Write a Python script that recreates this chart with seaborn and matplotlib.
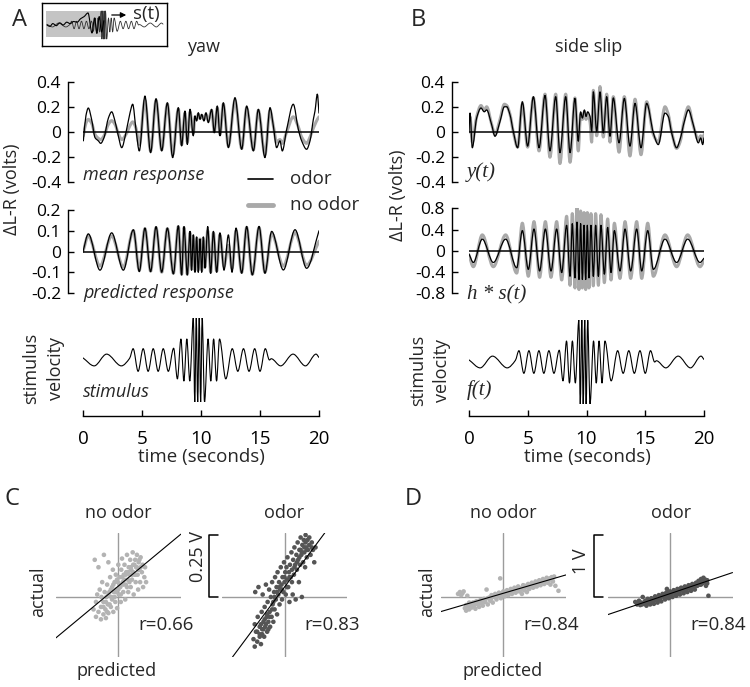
import matplotlib
matplotlib.use("Agg")
import matplotlib.pyplot as plt
from matplotlib.lines import Line2D
from matplotlib.patches import Rectangle, PathPatch, FancyArrowPatch
from matplotlib.path import Path
import seaborn as sns

W, H = 750, 687

# stimulus velocity (relative units), extrema
stim_t = [0.0, 0.95, 2.0, 3.25, 3.95, 4.25, 4.67, 5.1, 5.52, 5.95, 6.37, 6.8, 7.23, 7.68, 8.0, 8.3,
          8.55, 8.8, 9.05, 9.35, 9.47, 9.6, 9.72, 9.85, 9.97, 10.1, 10.3, 10.6, 10.83, 11.07, 11.32,
          11.57, 12.1, 12.65, 13.12, 13.6, 14.07, 14.55, 15.0, 15.45, 15.8, 15.95, 16.75, 17.8, 18.85,
          19.75, 20.0]
stim_v = [0.05, -0.14, 0.14, -0.14, 0.04, 0.27, -0.27, 0.27, -0.27, 0.27, -0.27, 0.27, -0.27, 0.28,
          -0.45, 0.5, -0.5, 0.5, -0.5, 1.0, -1.0, 1.0, -1.0, 1.0, -1.0, 1.0, -1.0, 0.5, -0.5, 0.5, -0.5,
          0.5, -0.45, 0.27, -0.27, 0.27, -0.27, 0.27, -0.27, 0.27, 0.0, 0.03, -0.14, 0.14, -0.14, 0.14, 0.06]

# yaw: mean response (volts)
ma_t = [0.03, 0.25, 0.45, 0.73, 1.02, 1.3, 1.5, 1.78, 2.15, 2.43, 2.71, 2.99, 3.28, 3.64, 3.98, 4.21,
        4.49, 4.77, 5.25, 5.73, 6.19, 6.67, 7.15, 7.6, 8.08, 8.36, 8.64, 8.84, 9.07, 9.35, 9.49, 9.63,
        9.77, 9.92, 10.06, 10.25, 10.42, 10.62, 10.9, 11.13, 11.38, 11.61, 11.89, 12.32, 12.88, 13.45,
        13.87, 14.44, 14.86, 15.42, 15.85, 16.13, 16.41, 16.69, 16.89, 17.26, 17.82, 18.25, 18.53,
        18.95, 19.24, 19.52, 19.66, 19.86, 20.0]
ma_odor = [-0.07, 0.13, 0.19, 0.10, -0.045, -0.07, -0.09, -0.045, 0.11, 0.16, 0.087, -0.03, -0.124,
           -0.005, 0.15, 0.22, 0.02, -0.15, 0.285, -0.164, 0.264, -0.15, 0.232, -0.203, 0.193, -0.11,
           0.166, -0.098, 0.18, -0.03, 0.127, 0.087, 0.153, 0.1, 0.14, 0.087, 0.153, 0.074, 0.18,
           -0.005, 0.206, -0.03, 0.232, -0.124, 0.272, -0.137, 0.206, -0.15, 0.18, -0.203, 0.193,
           0.048, -0.124, -0.07, -0.15, 0.02, 0.22, 0.02, -0.07, -0.137, -0.07, 0.1, 0.166, 0.3, 0.15]
ma_none = [-0.03, 0.07, 0.10, 0.07, -0.02, -0.05, -0.06, -0.03, 0.06, 0.09, 0.06, -0.01, -0.06, -0.02,
           0.05, 0.08, 0.03, -0.1, 0.25, -0.15, 0.25, -0.14, 0.22, -0.18, 0.18, -0.1, 0.15, -0.08, 0.16,
           -0.01, 0.12, 0.1, 0.14, 0.11, 0.13, 0.1, 0.14, 0.09, 0.17, 0.0, 0.19, -0.02, 0.22, -0.11,
           0.25, -0.13, 0.19, -0.14, 0.17, -0.18, 0.17, 0.05, -0.08, -0.06, -0.09, 0.0, 0.12, 0.04,
           -0.04, -0.09, -0.04, 0.03, 0.06, 0.1, 0.12]

# yaw: predicted response (volts)
pa_t = [0.0, 0.45, 1.44, 2.43, 3.42, 4.27, 4.77, 5.25, 5.73, 6.19, 6.67, 7.15, 7.66, 8.08, 8.36, 8.56,
        8.84, 9.07, 9.2, 9.35, 9.49, 9.63, 9.77, 9.92, 10.06, 10.2, 10.34, 10.57, 10.82, 11.05, 11.33,
        11.6, 11.95, 12.32, 12.63, 12.97, 13.45, 13.87, 14.35, 14.92, 15.42, 15.99, 16.98, 17.97,
        18.95, 20.0]
pa_odor = [0.0, 0.085, -0.09, 0.09, -0.09, 0.105, -0.097, 0.113, -0.097, 0.12, -0.1, 0.113, -0.108,
           0.124, -0.113, 0.12, -0.113, 0.097, -0.09, 0.08, -0.1, 0.07, -0.1, 0.06, -0.1, 0.07, -0.08,
           0.12, -0.105, 0.097, -0.1, 0.09, -0.09, 0.08, -0.1, 0.113, -0.105, 0.121, -0.113, 0.121,
           -0.105, 0.097, -0.089, 0.105, -0.081, 0.1]
pa_none = [0.0, 0.075, -0.07, 0.075, -0.075, 0.1, -0.09, 0.11, -0.095, 0.115, -0.1, 0.11, -0.105, 0.12,
           -0.11, 0.115, -0.11, 0.09, -0.085, 0.075, -0.09, 0.065, -0.09, 0.06, -0.09, 0.065, -0.075,
           0.1, -0.1, 0.09, -0.095, 0.08, -0.07, 0.03, -0.08, 0.1, -0.1, 0.115, -0.11, 0.115, -0.1,
           0.085, -0.07, 0.09, -0.065, 0.05]

# side slip: mean response y(t) (volts)
mb_t = [0.0, 0.09, 0.28, 0.65, 1.02, 1.3, 1.5, 1.93, 2.21, 2.64, 3.01, 3.21, 3.49, 3.77, 4.14, 4.54,
        4.99, 5.48, 5.96, 6.47, 6.89, 7.38, 7.74, 8.23, 8.6, 9.02, 9.3, 9.5, 9.65, 9.82, 9.96, 10.1,
        10.3, 10.44, 10.58, 10.87, 11.15, 11.43, 11.72, 12.0, 12.28, 12.77, 13.22, 13.7, 14.13, 14.64,
        15.12, 15.69, 16.11, 16.68, 16.96, 17.25, 17.67, 17.96, 18.33, 18.67, 19.09, 19.52, 19.72,
        19.89, 20.0]
mb_odor = [0.005, 0.15, -0.125, 0.11, 0.19, 0.16, 0.175, 0.057, -0.034, 0.084, 0.2, 0.2, 0.136, 0.005,
           -0.125, 0.24, -0.112, 0.28, -0.125, 0.29, -0.15, 0.28, -0.164, 0.28, -0.164, 0.266, -0.073,
           0.16, 0.11, 0.175, 0.123, 0.16, 0.123, 0.005, 0.318, 0.005, 0.318, -0.008, 0.28, -0.034,
           0.27, -0.086, 0.266, -0.112, 0.227, -0.125, 0.227, -0.008, -0.1, 0.15, 0.123, -0.008,
           -0.125, -0.06, 0.084, 0.175, 0.057, -0.086, -0.047, -0.1, -0.047]
mb_none = [0.0, 0.12, -0.08, 0.12, 0.21, 0.17, 0.2, 0.06, -0.02, 0.1, 0.22, 0.21, 0.14, 0.0, -0.12,
           0.22, -0.12, 0.27, -0.15, 0.3, -0.2, 0.3, -0.25, 0.3, -0.24, 0.27, -0.15, 0.14, 0.1, 0.16,
           0.1, 0.14, 0.08, -0.08, 0.33, -0.03, 0.36, -0.04, 0.3, -0.08, 0.28, -0.16, 0.28, -0.19, 0.26,
           -0.18, 0.24, -0.02, -0.08, 0.2, 0.14, 0.0, -0.13, -0.08, 0.1, 0.2, 0.05, -0.06, -0.03, -0.08,
           -0.02]

# side slip: predicted response h * s(t) (volts)
pb_t = [0.0, 0.37, 1.13, 2.07, 3.12, 4.06, 4.54, 5.05, 5.53, 6.01, 6.5, 6.98, 7.46, 7.89, 8.31, 8.6,
        8.79, 9.02, 9.19, 9.36, 9.5, 9.65, 9.79, 9.93, 10.07, 10.21, 10.38, 10.58, 10.78, 11.01, 11.23,
        11.52, 11.8, 12.09, 12.37, 12.85, 13.28, 13.76, 14.27, 14.7, 15.21, 15.69, 16.68, 17.67, 18.61,
        19.66, 20.0]
pb_odor = [-0.06, -0.22, 0.22, -0.22, 0.22, -0.32, 0.38, -0.35, 0.41, -0.38, 0.41, -0.38, 0.41, -0.41,
           0.48, -0.48, 0.51, -0.51, 0.54, -0.54, 0.51, -0.54, 0.48, -0.54, 0.48, -0.51, 0.48, -0.48,
           0.48, -0.48, 0.48, -0.44, 0.44, -0.41, 0.38, -0.38, 0.41, -0.38, 0.41, -0.38, 0.38, -0.35,
           0.22, -0.22, 0.22, -0.22, -0.14]
pb_none = [-0.08, -0.3, 0.3, -0.3, 0.3, -0.42, 0.52, -0.48, 0.55, -0.5, 0.55, -0.5, 0.55, -0.55, 0.65,
           -0.65, 0.7, -0.7, 0.86, -0.73, 0.75, -0.7, 0.72, -0.73, 0.72, -0.7, 0.7, -0.66, 0.7, -0.65,
           0.68, -0.6, 0.6, -0.55, 0.52, -0.52, 0.55, -0.52, 0.55, -0.52, 0.52, -0.48, 0.3, -0.3, 0.3,
           -0.3, -0.19]

# schematic inset: response sketch drawn over the stimulus
inset_t = [0.0, 0.5, 1.0, 1.6, 2.2, 2.8, 3.4, 4.0, 4.6, 5.2, 5.8, 6.4, 7.07, 7.76, 8.2, 8.6, 9.0, 9.4, 9.8]
inset_v = [0.0, -0.1, 0.1, -0.05, 0.15, 0.0, 0.2, 0.1, 0.25, 0.2, 0.45, 0.6, 0.86, -0.57, 0.5, -0.6,
           0.6, -0.5, 0.3]

# C: yaw, predicted vs actual (volts)
c_none_x = [-0.100, -0.095, -0.090, -0.090, -0.085, -0.080, -0.080, -0.075, -0.070, -0.070, -0.068,
            -0.065, -0.060, -0.060, -0.058, -0.055, -0.052, -0.050, -0.048, -0.045, -0.042, -0.040,
            -0.040, -0.036, -0.033, -0.030, -0.028, -0.025, -0.022, -0.020, -0.018, -0.015, -0.012,
            -0.010, -0.008, -0.005, -0.002, 0.000, 0.002, 0.005, 0.008, 0.010, 0.012, 0.015, 0.018,
            0.020, 0.022, 0.025, 0.028, 0.030, 0.032, 0.035, 0.038, 0.040, 0.042, 0.045, 0.048, 0.050,
            0.052, 0.055, 0.058, 0.060, 0.062, 0.065, 0.068, 0.070, 0.072, 0.075, 0.078, 0.080, 0.082,
            0.085, 0.088, 0.090, 0.095, 0.098, 0.100, 0.105, 0.108, 0.112,
            -0.06, -0.05, -0.045, -0.04, -0.035, -0.03, -0.025, -0.02, -0.015, -0.01, -0.005, 0.0,
            0.005, 0.01, 0.015, 0.02, 0.025, 0.03, 0.035, 0.04, 0.045, 0.05, 0.055, 0.06, 0.065, 0.07,
            0.075, 0.08, 0.085, 0.09]
c_none_y = [-0.05, 0.15, -0.08, -0.02, 0.01, -0.06, 0.12, 0.03, -0.09, -0.04, 0.00, 0.06, -0.07, -0.02,
            0.17, 0.02, -0.05, -0.085, 0.00, 0.05, -0.03, 0.14, -0.065, 0.02, 0.08, -0.04, 0.00, 0.04,
            0.11, -0.06, 0.02, 0.06, -0.02, 0.09, 0.03, -0.045, 0.06, 0.13, 0.01, 0.08, 0.04, -0.02,
            0.11, 0.155, 0.06, 0.02, 0.09, 0.13, -0.01, 0.05, 0.10, 0.17, 0.07, 0.02, 0.12, 0.09, 0.15,
            0.04, 0.11, 0.07, 0.18, 0.13, 0.01, 0.09, 0.15, 0.06, 0.12, 0.17, 0.09, 0.03, 0.14, 0.11,
            0.06, 0.16, 0.10, 0.13, 0.04, 0.08, 0.12, 0.06,
            -0.04, -0.02, -0.06, 0.01, -0.03, 0.03, -0.01, 0.05, 0.00, 0.02, 0.07, 0.03, 0.05, 0.01,
            0.08, 0.05, 0.07, 0.09, 0.04, 0.10, 0.06, 0.12, 0.09, 0.10, 0.13, 0.09, 0.12, 0.11, 0.15,
            0.12]
c_odor_x = [-0.125, -0.12, -0.12, -0.118, -0.115, -0.11, -0.108, -0.105, -0.10, -0.10, -0.095, -0.092,
            -0.09, -0.088, -0.085, -0.082, -0.08, -0.078, -0.075, -0.072, -0.07, -0.068, -0.065, -0.062,
            -0.06, -0.058, -0.055, -0.052, -0.05, -0.048, -0.045, -0.042, -0.04, -0.038, -0.035, -0.032,
            -0.03, -0.028, -0.025, -0.022, -0.02, -0.018, -0.015, -0.012, -0.01, -0.008, -0.005, -0.002,
            0.00, 0.003, 0.005, 0.008, 0.01, 0.012, 0.015, 0.018, 0.02, 0.022, 0.025, 0.028, 0.03, 0.033,
            0.035, 0.038, 0.04, 0.043, 0.045, 0.048, 0.05, 0.053, 0.055, 0.058, 0.06, 0.063, 0.065,
            0.068, 0.07, 0.072, 0.075, 0.078, 0.08, 0.083, 0.085, 0.088, 0.09, 0.093, 0.095, 0.10, 0.105,
            0.11, 0.115, 0.12, 0.125,
            -0.11, -0.1, -0.095, -0.09, -0.085, -0.08, -0.075, -0.07, -0.065, -0.06, -0.05, -0.045,
            -0.04, -0.03, -0.02, -0.01, 0.0, 0.01, 0.02, 0.03, 0.04, 0.05, 0.06, 0.065, 0.07, 0.08,
            0.085, 0.09, 0.1, 0.11]
c_odor_y = [-0.17, -0.20, -0.11, 0.02, -0.14, -0.18, -0.08, 0.04, -0.15, -0.12, -0.19, -0.06, -0.13,
            0.01, -0.10, -0.16, -0.04, -0.12, 0.05, -0.08, -0.14, -0.02, -0.10, 0.03, -0.06, -0.12, 0.00,
            -0.08, 0.06, -0.03, -0.10, 0.02, -0.05, 0.08, -0.01, 0.04, -0.07, 0.10, 0.01, 0.06, -0.03,
            0.03, 0.12, 0.05, -0.01, 0.08, 0.02, 0.14, 0.06, 0.10, 0.01, 0.12, 0.07, 0.16, 0.04, 0.10,
            -0.02, 0.13, 0.08, 0.18, 0.11, 0.01, 0.15, 0.09, 0.20, 0.13, -0.01, 0.17, 0.11, 0.22, 0.15,
            0.06, 0.19, 0.13, 0.24, 0.17, 0.00, 0.21, 0.14, 0.23, 0.18, 0.12, 0.25, 0.20, 0.16, 0.23,
            0.19, 0.21, 0.17, 0.22, 0.19, 0.14, 0.20,
            -0.14, -0.16, -0.11, -0.15, -0.13, -0.09, -0.11, -0.07, -0.13, -0.08, -0.05, -0.02, 0.00,
            0.02, 0.04, 0.03, 0.08, 0.04, 0.08, 0.06, 0.12, 0.14, 0.16, 0.19, 0.18, 0.20, 0.22, 0.19,
            0.24, 0.20]

# D: side slip, predicted vs actual (volts)
d_none_x = [-0.73, -0.70, -0.68, -0.66, -0.64, -0.62, -0.60, -0.58, -0.57, -0.55, -0.53, -0.51, -0.49,
            -0.47, -0.45, -0.43, -0.41, -0.39, -0.37, -0.35, -0.33, -0.31, -0.29, -0.27, -0.25, -0.23,
            -0.21, -0.19, -0.17, -0.15, -0.13, -0.11, -0.09, -0.07, -0.05, -0.04, -0.02, 0.00, 0.02,
            0.04, 0.06, 0.08, 0.10, 0.12, 0.14, 0.16, 0.18, 0.20, 0.22, 0.24, 0.26, 0.28, 0.30, 0.32,
            0.34, 0.36, 0.38, 0.40, 0.42, 0.44, 0.46, 0.48, 0.50, 0.52, 0.54, 0.56, 0.58, 0.60, 0.62,
            0.64, 0.66, 0.68, 0.70, 0.72, 0.74, 0.76, 0.78, 0.80, 0.84, 0.89,
            -0.6, -0.55, -0.5, -0.45, -0.4, -0.35, -0.3, -0.25, -0.2, -0.15, -0.1, -0.05, 0.0, 0.05,
            0.1, 0.15, 0.2, 0.25, 0.3, 0.35, 0.4, 0.45, 0.5, 0.55, 0.6, 0.65, 0.7, 0.75, 0.79, 0.82]
d_none_y = [0.05, 0.08, 0.03, 0.06, 0.09, -0.18, -0.22, 0.02, -0.15, -0.20, -0.12, -0.17, -0.09, -0.14,
            -0.19, -0.07, -0.12, -0.16, -0.05, -0.10, -0.14, -0.03, -0.08, 0.12, -0.12, -0.01, -0.06,
            0.03, -0.09, 0.00, 0.05, -0.04, 0.02, 0.07, 0.30, -0.02, 0.04, 0.09, 0.01, 0.06, 0.11, 0.03,
            0.08, 0.13, 0.05, 0.10, 0.15, 0.07, 0.12, 0.17, 0.09, 0.14, 0.05, 0.19, 0.11, 0.16, 0.08,
            0.21, 0.13, 0.18, 0.23, 0.15, 0.20, 0.25, 0.17, 0.22, 0.27, 0.19, 0.24, 0.29, 0.21, 0.26,
            0.31, 0.23, 0.28, 0.20, 0.32, 0.25, 0.18, 0.10,
            -0.13, -0.09, -0.12, -0.08, -0.09, -0.05, -0.06, -0.02, -0.03, 0.03, 0.01, 0.06, 0.04, 0.09,
            0.06, 0.12, 0.10, 0.15, 0.12, 0.18, 0.15, 0.20, 0.17, 0.23, 0.20, 0.25, 0.24, 0.30, 0.27,
            0.33]
d_odor_x = [-0.56, -0.53, -0.50, -0.48, -0.46, -0.44, -0.42, -0.40, -0.38, -0.36, -0.34, -0.32, -0.30,
            -0.28, -0.26, -0.24, -0.22, -0.20, -0.18, -0.16, -0.14, -0.12, -0.10, -0.08, -0.06, -0.05,
            -0.04, -0.02, 0.00, 0.02, 0.04, 0.06, 0.08, 0.10, 0.12, 0.14, 0.16, 0.18, 0.20, 0.22, 0.24,
            0.26, 0.28, 0.30, 0.32, 0.34, 0.36, 0.38, 0.40, 0.42, 0.44, 0.46, 0.48, 0.50, 0.52, 0.54,
            0.56, 0.58, 0.60, 0.62,
            -0.5, -0.45, -0.4, -0.35, -0.3, -0.25, -0.2, -0.15, -0.1, -0.05, 0.0, 0.05, 0.1, 0.15, 0.2,
            0.25, 0.3, 0.35, 0.4, 0.45, 0.5, 0.55, 0.6, 0.57, 0.53, 0.47, 0.43, 0.33, 0.27, 0.17]
d_odor_y = [-0.08, -0.12, -0.06, -0.13, -0.09, 0.00, -0.11, -0.06, -0.14, -0.03, -0.09, -0.12, -0.02,
            -0.07, -0.11, 0.01, -0.05, -0.09, 0.03, -0.03, -0.07, 0.05, 0.00, -0.04, 0.07, 0.13, 0.02,
            -0.02, 0.09, 0.04, 0.00, 0.11, 0.06, 0.02, 0.13, 0.08, 0.04, 0.15, 0.10, 0.06, 0.17, 0.12,
            0.08, 0.19, 0.14, 0.10, 0.21, 0.16, 0.12, 0.23, 0.18, 0.26, 0.20, 0.29, 0.22, 0.31, 0.25,
            0.18, 0.27, 0.02,
            -0.1, -0.12, -0.1, -0.07, -0.08, -0.05, -0.04, 0.0, 0.04, 0.02, 0.05, 0.08, 0.07, 0.1, 0.14,
            0.11, 0.16, 0.15, 0.18, 0.21, 0.2, 0.24, 0.22, 0.28, 0.26, 0.24, 0.2, 0.18, 0.15, 0.13]

# fitted lines (slope, intercept) and r values
c_fits = [(0.83, 0.044), (1.345, 0.04)]
d_fits = [(0.293, 0.06), (0.337, 0.054)]
c_r = ["r=0.66", "r=0.83"]
d_r = ["r=0.84", "r=0.84"]
c_bar, d_bar = 0.25, 1.0

ODOR = "black"
NO_ODOR = "#a9a9a9"
DOT_LIGHT = "#b3b3b3"
DOT_DARK = "#555555"
CROSS = "#9c9c9c"

sns.set_style("white")
plt.rcParams["font.family"] = ["Open Sans", "DejaVu Sans"]

fig = plt.figure(figsize=(7.5, 6.87), dpi=100)


def box(x0, y0, x1, y1):
    return [x0 / W, 1 - y1 / H, (x1 - x0) / W, (y1 - y0) / H]


def label(x, y, s, **kw):
    kw.setdefault("fontsize", 13)
    kw.setdefault("ha", "center")
    kw.setdefault("va", "center")
    fig.text(x / W, 1 - y / H, s, **kw)


def smooth_trace(ax, t, v, color, lw):
    # draw the sampled extrema as a smooth curve (monotone cubic, flat at peaks)
    n = len(t)
    d = [(v[i + 1] - v[i]) / (t[i + 1] - t[i]) for i in range(n - 1)]
    m = [d[0]] + [0.0] * (n - 2) + [d[-1]]
    for i in range(1, n - 1):
        if d[i - 1] * d[i] > 0:
            m[i] = 2.0 / (1.0 / d[i - 1] + 1.0 / d[i])
    verts = [(t[0], v[0])]
    codes = [Path.MOVETO]
    for i in range(n - 1):
        h = t[i + 1] - t[i]
        verts += [(t[i] + h / 3, v[i] + m[i] * h / 3),
                  (t[i + 1] - h / 3, v[i + 1] - m[i + 1] * h / 3),
                  (t[i + 1], v[i + 1])]
        codes += [Path.CURVE4] * 3
    ax.add_patch(PathPatch(Path(verts, codes), facecolor="none", edgecolor=color, linewidth=lw,
                           joinstyle="round", capstyle="round"))


def response_axes(rect, lim, ticks, outward_px):
    ax = fig.add_axes(rect)
    ax.set_xlim(0, 20)
    ax.set_ylim(-lim, lim)
    for side in ["top", "right", "bottom"]:
        ax.spines[side].set_visible(False)
    ax.spines["left"].set_position(("outward", outward_px * 0.72))
    ax.spines["left"].set_color("black")
    ax.spines["left"].set_linewidth(1.0)
    ax.set_xticks([])
    ax.set_yticks(ticks)
    ax.set_yticklabels([("%g" % v) for v in ticks])
    ax.tick_params(axis="y", left=True, direction="in", length=4, width=1, labelsize=12.5, pad=5,
                   colors="black")
    ax.patch.set_visible(False)
    return ax


def draw_pair(ax, t, v_none, v_odor):
    smooth_trace(ax, t, v_none, NO_ODOR, 2.2)
    smooth_trace(ax, t, v_odor, ODOR, 0.9)
    ax.axhline(0, color="black", linewidth=1.1)


def stimulus_axes(rect, outward_px):
    ax = fig.add_axes(rect)
    smooth_trace(ax, stim_t, stim_v, "black", 0.8)
    ax.set_xlim(0, 20)
    ax.set_ylim(-1, 1)
    for side in ["top", "right", "left"]:
        ax.spines[side].set_visible(False)
    ax.spines["bottom"].set_position(("outward", outward_px * 0.72))
    ax.spines["bottom"].set_color("black")
    ax.spines["bottom"].set_linewidth(1.0)
    ax.set_yticks([])
    ax.set_xticks([0, 5, 10, 15, 20])
    ax.tick_params(axis="x", bottom=True, direction="in", length=4, width=1, labelsize=13.5, pad=10,
                   colors="black")
    ax.patch.set_visible(False)
    return ax


# ---- A: yaw ----
ax = response_axes(box(83, 81.5, 319, 182.5), 0.4, [0.4, 0.2, 0, -0.2, -0.4], 15)
draw_pair(ax, ma_t, ma_none, ma_odor)
ax = response_axes(box(83, 210, 319, 293), 0.2, [0.2, 0.1, 0, -0.1, -0.2], 15)
draw_pair(ax, pa_t, pa_none, pa_odor)
stimulus_axes(box(83, 318, 319, 402), 14)

# ---- B: side slip ----
ax = response_axes(box(469, 81.5, 704, 182.5), 0.4, [0.4, 0.2, 0, -0.2, -0.4], 17)
draw_pair(ax, mb_t, mb_none, mb_odor)
ax = response_axes(box(469, 208.3, 704, 293.3), 0.8, [0.8, 0.4, 0, -0.4, -0.8], 17)
draw_pair(ax, pb_t, pb_none, pb_odor)
stimulus_axes(box(469, 320, 704, 404), 12)

# ---- schematic inset ----
ins = fig.add_axes(box(42, 3, 167, 46))
ins.set_xlim(-0.86, 20.69)
ins.set_ylim(-1.5, 1.57)
ins.add_patch(Rectangle((-0.17, -0.86), 9.83, 1.86, facecolor="#c4c4c4", edgecolor="none"))
smooth_trace(ins, stim_t, stim_v, "#333333", 0.6)
smooth_trace(ins, inset_t, inset_v, "black", 0.8)
ins.set_xticks([])
ins.set_yticks([])
for side in ins.spines.values():
    side.set_visible(True)
    side.set_color("black")
    side.set_linewidth(1.0)
fig.add_artist(FancyArrowPatch((109 / W, 1 - 15 / H), (129 / W, 1 - 15 / H),
                               transform=fig.transFigure, arrowstyle="-|>",
                               mutation_scale=8, color="black", linewidth=0.9))
label(133, 14, "s(t)", ha="left", fontsize=13.5)

# ---- panel text ----
label(19, 20, "A", fontsize=17)
label(418, 20, "B", fontsize=17)
label(204, 47, "yaw")
label(589, 47, "side slip")
label(12, 189, "\u0394L-R (volts)", rotation=90)
label(398, 195, "\u0394L-R (volts)", rotation=90)
label(31, 368, "stimulus", rotation=90)
label(56, 368, "velocity", rotation=90)
label(418, 370, "stimulus", rotation=90)
label(442, 370, "velocity", rotation=90)
label(201, 457, "time (seconds)", fontsize=13.5)
label(587, 457, "time (seconds)", fontsize=13.5)
label(83, 175, "mean response", ha="left", style="italic")
label(83, 293, "predicted response", ha="left", style="italic")
label(83, 392, "stimulus", ha="left", style="italic")
serif = ["Liberation Serif", "DejaVu Serif"]
label(467, 172, "y(t)", ha="left", style="italic", family=serif, fontsize=15)
label(467, 295, "h * s(t)", ha="left", style="italic", family=serif, fontsize=15)
label(467, 390, "f(t)", ha="left", style="italic", family=serif, fontsize=15)

# legend
fig.add_artist(Line2D([248 / W, 273 / W], [1 - 179 / H] * 2, color=ODOR, linewidth=1.2))
fig.add_artist(Line2D([248 / W, 273 / W], [1 - 205 / H] * 2, color=NO_ODOR, linewidth=3.5))
label(290, 179, "odor", ha="left", fontsize=13.5)
label(290, 205, "no odor", ha="left", fontsize=13.5)


# ---- C, D: scatter ----
def scatter_axes(cx):
    ax = fig.add_axes(box(cx - 62.5, 533, cx + 62.5, 657))
    ax.axhline(0, color=CROSS, linewidth=1.0, zorder=0)
    ax.axvline(0, color=CROSS, linewidth=1.0, zorder=0)
    return ax


def finish_scatter(ax, scale, fit):
    ax.axline((0, fit[1]), slope=fit[0], color="black", linewidth=0.8)
    ax.set_xlim(-62.5 * scale, 62.5 * scale)
    ax.set_ylim(-60 * scale, 64 * scale)
    ax.axis("off")


sc_c = c_bar / 62.0
sc_d = d_bar / 62.0
panels = [
    (118.3, sc_c, c_none_x, c_none_y, DOT_LIGHT, c_fits[0], c_r[0]),
    (284.5, sc_c, c_odor_x, c_odor_y, DOT_DARK, c_fits[1], c_r[1]),
    (503.3, sc_d, d_none_x, d_none_y, DOT_LIGHT, d_fits[0], d_r[0]),
    (670.0, sc_d, d_odor_x, d_odor_y, DOT_DARK, d_fits[1], d_r[1]),
]
scatter_axs = []
for cx, sc, xs, ys, col, fit, rtxt in panels:
    ax = scatter_axes(cx)
    sns.scatterplot(x=xs, y=ys, ax=ax, s=11, color=col, edgecolor="none", linewidth=0)
    finish_scatter(ax, sc, fit)
    scatter_axs.append(ax)
    label(cx + 20, 625, rtxt, ha="left", fontsize=13.5)

# scale bars beside the odor plots
for ax, sc, bar in [(scatter_axs[1], sc_c, c_bar), (scatter_axs[3], sc_d, d_bar)]:
    xl = -76 * sc
    ax.plot([xl + 9 * sc, xl, xl, xl + 9 * sc], [bar, bar, 0, 0], color="black", linewidth=1.1,
            clip_on=False)
label(198, 556, "0.25 V", rotation=90)
label(581, 561, "1 V", rotation=90)

label(12, 499, "C", fontsize=17)
label(413, 499, "D", fontsize=17)
for cx, title in [(118, "no odor"), (284, "odor"), (503, "no odor"), (671, "odor")]:
    label(cx, 513, title)
label(38, 592, "actual", rotation=90)
label(427, 592, "actual", rotation=90)
label(117, 671, "predicted")
label(503, 671, "predicted")

fig.savefig("out.png", dpi=100)
